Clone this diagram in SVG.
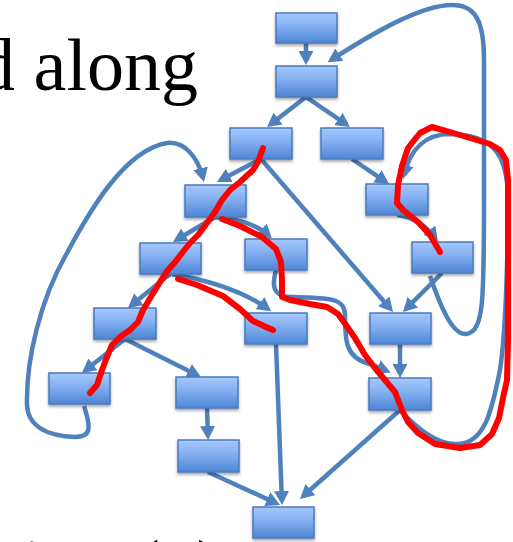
<svg xmlns="http://www.w3.org/2000/svg" width="513" height="542" viewBox="0 0 513 542">
<defs>
<linearGradient id="g" x1="0" y1="0" x2="0" y2="1">
<stop offset="0" stop-color="#a6c9fb"/>
<stop offset="0.5" stop-color="#7eabef"/>
<stop offset="1" stop-color="#4e85d4"/>
</linearGradient>
<filter id="sh" x="-20%" y="-20%" width="140%" height="160%">
<feDropShadow dx="0" dy="2" stdDeviation="1.5" flood-color="#000" flood-opacity="0.35"/>
</filter>
<marker id="ah" viewBox="0 0 14 15" refX="10" refY="7.5" markerWidth="14" markerHeight="15" markerUnits="userSpaceOnUse" orient="auto">
<path d="M0,0 L14,7.5 L0,15 z" fill="#4f81bd"/>
</marker>
<style>
.n{fill:url(#g);stroke:#4a7bbd;stroke-width:1.5;filter:url(#sh)}
.e{fill:none;stroke:#4f81bd;stroke-width:4.5;marker-end:url(#ah)}
.r{fill:none;stroke:#ff0000;stroke-width:6;stroke-linecap:round;stroke-linejoin:round}
.t{font-family:"Liberation Serif","Times New Roman",serif;font-size:74px;fill:#000}
</style>
</defs>
<text class="t" x="198" y="90" text-anchor="end">d along</text>
<text class="t" x="22" y="591">ion (x)</text>
<g id="connectors">
<path class="e" d="M306,43 L306,61"/>
<path class="e" d="M430,276 C440,305 452,335 466,334 C484,332 484,300 484,200 L484,60 C484,20 475,5 452,5 C420,5 370,35 331,60"/>
<path class="e" d="M306,97 L270.2,124.6"/>
<path class="e" d="M306,97 L346.7,124.7"/>
<path class="e" d="M261,159 L220.5,180.1"/>
<path class="e" d="M261,159 L390.4,309"/>
<path class="e" d="M352,159 L385.7,181.8"/>
<path class="e" d="M84,406 C92,430 90,437 75,437 C50,436 28,428 27,405 C26,360 40,300 67,253 C90,210 125,150 167,143 C185,141 198,158 203,178"/>
<path class="e" d="M215,217 L176.4,240"/>
<path class="e" d="M216,217 Q252,220 269,236"/>
<path class="e" d="M170,274 L131.1,305.5"/>
<path class="e" d="M172,274 Q235,285 268,309"/>
<path class="e" d="M276,270 C272,285 272,296 290,297 C330,298 345,298 345,315 C345,340 345,358 370,364 L387,371"/>
<path class="e" d="M276,344 L281.9,501"/>
<path class="e" d="M397,215 Q420,218 435.5,238"/>
<path class="e" d="M442,273 L405.8,309.2"/>
<path class="e" d="M400,344 L400,374"/>
<path class="e" d="M400,410 C420,432 440,445 458,444 C485,443 492,410 500,370 C506,330 508,250 508,200 C508,150 490,135 450,134 C425,134 410,150 404,175"/>
<path class="e" d="M400,410 L303,496.3"/>
<path class="e" d="M125,339 L85.1,370.5"/>
<path class="e" d="M125,339 L197.4,375.2"/>
<path class="e" d="M207,408 L208,436"/>
<path class="e" d="M208,472 L276.4,503.3"/>
</g>
<g id="A"><rect class="n" x="276" y="13" width="61" height="30"/></g>
<g id="B"><rect class="n" x="276" y="66" width="61" height="31"/></g>
<g id="C"><rect class="n" x="230" y="128" width="62" height="31"/></g>
<g id="D"><rect class="n" x="321" y="128" width="62" height="31"/></g>
<g id="E"><rect class="n" x="185" y="185" width="61" height="32"/></g>
<g id="J"><rect class="n" x="366" y="184" width="62" height="31"/></g>
<g id="F"><rect class="n" x="140" y="243" width="61" height="31"/></g>
<g id="G"><rect class="n" x="245" y="239" width="62" height="31"/></g>
<g id="K"><rect class="n" x="412" y="242" width="61" height="31"/></g>
<g id="H"><rect class="n" x="94" y="308" width="62" height="31"/></g>
<g id="I"><rect class="n" x="245" y="313" width="62" height="31"/></g>
<g id="L"><rect class="n" x="370" y="313" width="61" height="31"/></g>
<g id="N"><rect class="n" x="49" y="373" width="61" height="31"/></g>
<g id="O"><rect class="n" x="176" y="377" width="62" height="31"/></g>
<g id="M"><rect class="n" x="369" y="378" width="62" height="32"/></g>
<g id="P"><rect class="n" x="178" y="440" width="61" height="32"/></g>
<g id="Q"><rect class="n" x="253" y="507" width="61" height="31"/></g>
<g id="redlines">
<path class="r" d="M263,148 L258,162 L253,170 L240,182 L230,190 L222,200 L215,212 L207,223 L198,235 L190,243 L182,253 L176,261 L168,270 L160,282 L152,295 L143,310 L138,322 L130,330 L120,337 L112,345 L107,357 L102,370 L97,385 L90,393"/>
<path class="r" d="M222,219 L240,226 L262,237 L276,249 L281,262 L282,280 L282,297 L290,300 L310,304 L327,307 L338,314 L346,325 L355,338 L365,355 L375,368 L385,380 L395,392 L402,410 L408,422 L418,433 L435,444 L460,448 L480,445 L492,434 L499,418 L503,398 L507,380 L508,340 L508,250 L508,180 L506,160 L500,150 L490,144 L470,138 L450,132 L432,127 L420,133 L408,148 L402,166 L398,185 L397,203 L403,210 L418,222 L430,235 L440,252"/>
<path class="r" d="M178,279 L197,285 L223,296 L240,309 L253,321 L266,327 L273,330"/>
</g>
</svg>
